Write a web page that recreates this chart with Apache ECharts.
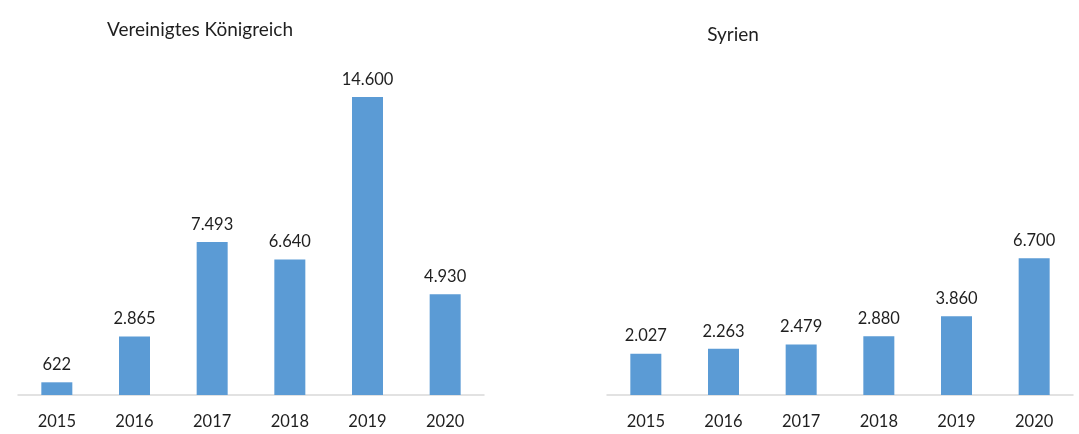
<!doctype html>
<html>
<head>
    <meta charset="utf-8">
    <title>Vereinigtes Königreich / Syrien</title>
    <script src="https://cdn.jsdelivr.net/npm/echarts@6/dist/echarts.min.js"></script>
</head>
<style>
    html, body { margin: 0; padding: 0; background: #fff; }
    #chart { width: 1079px; height: 434px; }
</style>
<body>
<div id="chart"></div>
<script>
  var years = ['2015', '2016', '2017', '2018', '2019', '2020'];
  var ukValues = [622, 2865, 7493, 6640, 14600, 4930];
  var syriaValues = [2027, 2263, 2479, 2880, 3860, 6700];
  var titles = ['Vereinigtes Königreich', 'Syrien'];

  var font = 'Lato, "Open Sans", sans-serif';
  var textColor = '#1f1f1f';

  function fmt(v) {
    return String(v).replace(/\B(?=(\d{3})+(?!\d))/g, '.');
  }

  var myChart = echarts.init(document.getElementById('chart'));

  var option = {
    animation: false,
    title: [
      { text: titles[0], left: 195, top: 15, textAlign: 'center',
        textStyle: { fontFamily: font, fontSize: 19, fontWeight: 'normal', color: textColor } },
      { text: titles[1], left: 728, top: 20, textAlign: 'center',
        textStyle: { fontFamily: font, fontSize: 19, fontWeight: 'normal', color: textColor } }
    ],
    grid: [
      { left: 18, width: 466, top: 97, height: 298 },
      { left: 607, width: 466, top: 97, height: 298 }
    ],
    xAxis: [0, 1].map(function (i) {
      return {
        type: 'category',
        gridIndex: i,
        data: years,
        axisLine: { lineStyle: { color: '#d9d9d9', width: 1.5 } },
        axisTick: { show: false },
        axisLabel: { fontFamily: font, fontSize: 16.5, color: textColor, margin: 18 }
      };
    }),
    yAxis: [0, 1].map(function (i) {
      return {
        type: 'value',
        gridIndex: i,
        min: 0,
        max: 14600,
        show: false,
        splitLine: { show: false }
      };
    }),
    series: [ukValues, syriaValues].map(function (vals, i) {
      return {
        type: 'bar',
        xAxisIndex: i,
        yAxisIndex: i,
        data: vals,
        barWidth: 31,
        itemStyle: { color: '#5b9bd5' },
        label: {
          show: true,
          position: 'top',
          distance: 9,
          fontFamily: font,
          fontSize: 16.5,
          color: textColor,
          formatter: function (p) { return fmt(p.value); }
        }
      };
    })
  };

  myChart.setOption(option);
</script>
</body>
</html>
